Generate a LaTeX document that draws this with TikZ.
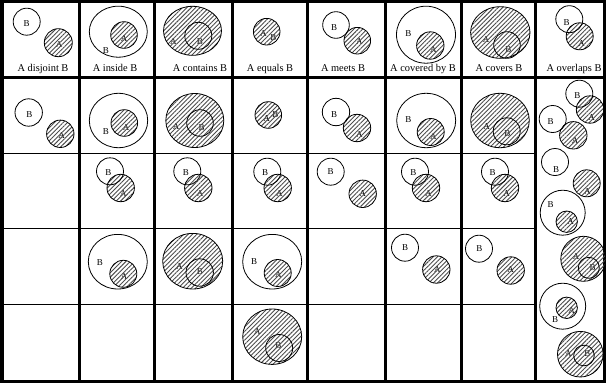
\documentclass[tikz,border=0pt]{standalone}
\usepackage{fontspec}
\setmainfont{Liberation Serif}
\usepackage{tikz}
\usetikzlibrary{patterns.meta}

\tikzset{
  gridthick/.style={line width=3pt},
  gridthin/.style={line width=0.9pt},
  outline/.style={draw,line width=0.8pt},
  hatched/.style={draw,line width=0.8pt,
    pattern={Lines[angle=45,distance=3.1pt,line width=0.9pt]},pattern color=black!70},
  lbl/.style={inner sep=0pt,font=\fontsize{9}{9}\selectfont},
  captext/.style={inner sep=0pt,anchor=base,font=\fontsize{10.4}{12}\selectfont}
}

\begin{document}
\begin{tikzpicture}[x=1pt,y=-1pt]
    \useasboundingbox (0,0) rectangle (606,383);

    % Table rules
    \draw[gridthin] (2,153) -- (535.5,153);
    \draw[gridthin] (2,228.5) -- (535.5,228.5);
    \draw[gridthin] (2,304) -- (535.5,304);
    \draw[gridthick] (2,77) -- (604,77);
    \draw[gridthick] (79.5,0) -- (79.5,383);
    \draw[gridthick] (154,0) -- (154,383);
    \draw[gridthick] (232.5,0) -- (232.5,383);
    \draw[gridthick] (307,0) -- (307,383);
    \draw[gridthick] (385,0) -- (385,383);
    \draw[gridthick] (461,0) -- (461,383);
    \draw[gridthick] (535.5,0) -- (535.5,383);
    \draw[gridthick] (2,1.5) rectangle (604,381);

    % Header: disjoint
    \node[lbl] (dis-h-b) at (26.7,24) {B};
    \node[lbl] (dis-h-a) at (59,44.5) {A};
    \draw[hatched] (58.3,42.7) circle (14pt);
    \draw[outline] (26.7,21.7) circle (13.5pt);
    \node[captext] (dis-h-cap) at (43,71) {A disjoint B};

    % Header: inside
    \node[lbl] (ins-h-b) at (106,50.7) {B};
    \node[lbl] (ins-h-a) at (124,39) {A};
    \draw[hatched] (124,35) circle (13.3pt);
    \draw[outline] (118.3,31.7) ellipse [x radius=29pt,y radius=25.5pt];
    \node[captext] (ins-h-cap) at (115,71) {A inside B};

    % Header: contains
    \node[lbl] (con-h-a) at (173.3,41.7) {A};
    \node[lbl] (con-h-b) at (200,41.7) {B};
    \draw[hatched] (192.5,30.8) ellipse [x radius=29pt,y radius=24.5pt];
    \draw[outline] (198.3,35.8) circle (13.5pt);
    \node[captext] (con-h-cap) at (200,71) {A contains B};

    % Header: equals
    \node[lbl] (equ-h-a) at (263.3,33.3) {A};
    \node[lbl] (equ-h-b) at (273.5,37.5) {B};
    \draw[hatched] (266.7,31.7) circle (13.3pt);
    \node[captext] (equ-h-cap) at (270,71) {A equals B};

    % Header: meets
    \node[lbl] (mee-h-b) at (334,27.3) {B};
    \node[lbl] (mee-h-a) at (359.3,41.7) {A};
    \draw[hatched] (357.3,40.7) circle (13.3pt);
    \draw[outline] (336,25) circle (13.3pt);
    \node[captext] (mee-h-cap) at (343,71) {A meets B};

    % Header: covered by
    \node[lbl] (cby-h-b) at (408.3,34) {B};
    \node[lbl] (cby-h-a) at (433.3,49.3) {A};
    \draw[hatched] (430.3,45.5) circle (13.7pt);
    \draw[outline] (426,34.7) ellipse [x radius=29.5pt,y radius=28.5pt];
    \node[captext] (cby-h-cap) at (423,71) {A covered by B};

    % Header: covers
    \node[lbl] (cov-h-a) at (486,39.3) {A};
    \node[lbl] (cov-h-b) at (508.3,49.3) {B};
    \draw[hatched] (500.3,32.5) ellipse [x radius=29.7pt,y radius=25.8pt];
    \draw[outline] (507,45) circle (13.3pt);
    \node[captext] (cov-h-cap) at (499,71) {A covers B};

    % Header: overlaps
    \node[lbl] (ovl-h-b) at (566.7,22.7) {B};
    \node[lbl] (ovl-h-a) at (581.7,43.3) {A};
    \draw[hatched] (579.7,36.3) circle (13.5pt);
    \draw[outline] (569.3,19.2) circle (13.5pt);
    \node[captext] (ovl-h-cap) at (574,71) {A overlaps B};

    % Row 1
    \node[lbl] (dis-1-b) at (29.3,114.3) {B};
    \node[lbl] (dis-1-a) at (61.7,135.7) {A};
    \draw[hatched] (60.3,133.8) circle (13.7pt);
    \draw[outline] (28.7,112.5) circle (13.7pt);

    \node[lbl] (ins-1-b) at (106,131.7) {B};
    \node[lbl] (ins-1-a) at (126,127.7) {A};
    \draw[hatched] (124.3,123) circle (13.3pt);
    \draw[outline] (118.5,120.5) ellipse [x radius=29.2pt,y radius=27.2pt];

    \node[lbl] (con-1-a) at (176,126.7) {A};
    \node[lbl] (con-1-b) at (201.7,127.7) {B};
    \draw[hatched] (194.8,120.5) ellipse [x radius=29pt,y radius=27pt];
    \draw[outline] (200,123) circle (13.3pt);

    \node[lbl] (equ-1-a) at (266.7,118.3) {A};
    \node[lbl] (equ-1-b) at (275.3,114.3) {B};
    \draw[hatched] (268.3,115) circle (13.3pt);

    \node[lbl] (mee-1-b) at (334,114.3) {B};
    \node[lbl] (mee-1-a) at (359.3,134.3) {A};
    \draw[hatched] (357,128) circle (13.7pt);
    \draw[outline] (336,112) circle (13.7pt);

    \node[lbl] (cby-1-b) at (408.3,120) {B};
    \node[lbl] (cby-1-a) at (433.3,136.7) {A};
    \draw[hatched] (430.7,132) circle (13.5pt);
    \draw[outline] (426.2,120.5) ellipse [x radius=29.5pt,y radius=27.2pt];

    \node[lbl] (cov-1-a) at (486.7,126.7) {A};
    \node[lbl] (cov-1-b) at (507.3,133.3) {B};
    \draw[hatched] (500,120.5) ellipse [x radius=29.3pt,y radius=27.2pt];
    \draw[outline] (506.7,131.3) circle (13.5pt);

    % Row 2
    \node[lbl] (ins-2-b) at (108.3,172.3) {B};
    \node[lbl] (ins-2-a) at (123.3,193.3) {A};
    \draw[hatched] (120.7,188) circle (13.7pt);
    \draw[outline] (110,171.3) circle (13.5pt);

    \node[lbl] (con-2-b) at (186,172.3) {B};
    \node[lbl] (con-2-a) at (200,193.3) {A};
    \draw[hatched] (198.3,188) circle (13.7pt);
    \draw[outline] (187.3,171.3) circle (13.5pt);

    \node[lbl] (equ-2-b) at (265,172.3) {B};
    \node[lbl] (equ-2-a) at (279.3,193.3) {A};
    \draw[hatched] (277.7,188) circle (13.7pt);
    \draw[outline] (267.3,171.7) circle (13.5pt);

    \node[lbl] (mee-2-b) at (330.7,171.7) {B};
    \node[lbl] (mee-2-a) at (362.7,193.3) {A};
    \draw[hatched] (362.7,193.8) circle (13.7pt);
    \draw[outline] (330.7,171.7) circle (13.5pt);

    \node[lbl] (cby-2-b) at (413.3,172.7) {B};
    \node[lbl] (cby-2-a) at (428.3,193.3) {A};
    \draw[hatched] (426,188) circle (13.7pt);
    \draw[outline] (415,171.7) circle (13.5pt);

    \node[lbl] (cov-2-b) at (492.7,172.7) {B};
    \node[lbl] (cov-2-a) at (506.7,193.3) {A};
    \draw[hatched] (505,188) circle (13.7pt);
    \draw[outline] (495,171.7) circle (13.5pt);

    % Row 3
    \node[lbl] (ins-3-b) at (100,262.3) {B};
    \node[lbl] (ins-3-a) at (124,276.7) {A};
    \draw[hatched] (123.3,273.8) circle (13.5pt);
    \draw[outline] (117.8,261.7) ellipse [x radius=29.5pt,y radius=27.3pt];

    \node[lbl] (con-3-a) at (179.3,266.7) {A};
    \node[lbl] (con-3-b) at (200,271.7) {B};
    \draw[hatched] (192.7,261.2) ellipse [x radius=30pt,y radius=27.8pt];
    \draw[outline] (199.7,272.5) circle (13.7pt);

    \node[lbl] (equ-3-b) at (254,261.7) {B};
    \node[lbl] (equ-3-a) at (278.3,275) {A};
    \draw[hatched] (277.7,273) circle (13.5pt);
    \draw[outline] (272.2,261.7) ellipse [x radius=29.5pt,y radius=27.3pt];

    \node[lbl] (cby-3-b) at (405,247.7) {B};
    \node[lbl] (cby-3-a) at (437.3,270) {A};
    \draw[hatched] (436.3,269.5) circle (13.7pt);
    \draw[outline] (405,247.7) circle (13.5pt);

    \node[lbl] (cov-3-b) at (479.3,249) {B};
    \node[lbl] (cov-3-a) at (510.7,270) {A};
    \draw[hatched] (510.7,270.5) circle (13.7pt);
    \draw[outline] (479,248.7) circle (13.5pt);

    % Row 4
    \node[lbl] (equ-4-a) at (257.3,331.7) {A};
    \node[lbl] (equ-4-b) at (278.3,345.7) {B};
    \draw[hatched] (272.2,336.7) ellipse [x radius=29.5pt,y radius=27.7pt];
    \draw[outline] (279.2,348) circle (13.5pt);

    % Overlaps column (stacked)
    \node[lbl] (ovl-1-b) at (577.3,95.7) {B};
    \node[lbl] (ovl-1-a) at (591.7,117.7) {A};
    \draw[hatched] (590,109.5) circle (13.7pt);
    \draw[outline] (579.3,93.7) circle (13.5pt);

    \node[lbl] (ovl-2-b) at (550.7,121.7) {B};
    \node[lbl] (ovl-2-a) at (575,141) {A};
    \draw[hatched] (573.3,135.3) circle (13.7pt);
    \draw[outline] (552.7,119) circle (13.5pt);

    \node[lbl] (ovl-3-b) at (556,170) {B};
    \draw[outline] (555,162) circle (13.5pt);

    \node[lbl] (ovl-4-a) at (587.3,191.7) {A};
    \draw[hatched] (586.7,183.3) circle (13.5pt);

    \node[lbl] (ovl-5-b) at (550.7,204.3) {B};
    \node[lbl] (ovl-5-a) at (570.7,221.7) {A};
    \draw[hatched] (566.7,221.7) circle (10.7pt);
    \draw[outline] (562.7,212.7) circle (22.5pt);

    \node[lbl] (ovl-6-a) at (576,256.7) {A};
    \node[lbl] (ovl-6-b) at (592.7,267.7) {B};
    \draw[hatched] (583.3,258.8) circle (22.5pt);
    \draw[outline] (588.8,267.8) circle (10.5pt);

    \node[lbl] (ovl-7-b) at (555,320) {B};
    \node[lbl] (ovl-7-a) at (571.7,311) {A};
    \draw[hatched] (566.7,307.8) circle (10.7pt);
    \draw[outline] (562.7,306.2) circle (23pt);

    \node[lbl] (ovl-8-a) at (568.3,353.3) {A};
    \node[lbl] (ovl-8-b) at (587.3,353.3) {B};
    \draw[hatched] (580.3,354.2) circle (22.8pt);
    \draw[outline] (584,355.5) circle (10.3pt);
\end{tikzpicture}
\end{document}
